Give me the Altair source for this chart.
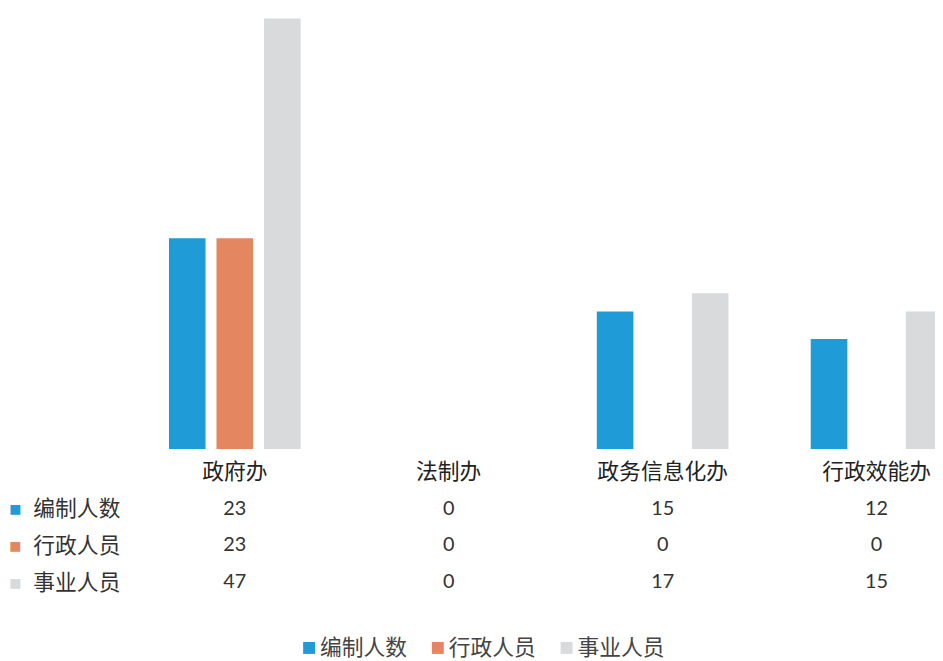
import altair as alt
import pandas as pd

categories = ["政府办", "法制办", "政务信息化办", "行政效能办"]
series = ["编制人数", "行政人员", "事业人员"]
bianzhi = [23, 0, 15, 12]
xingzheng = [23, 0, 0, 0]
shiye = [47, 0, 17, 15]
colors = ["#1f9bd7", "#e4865f", "#d8dadc"]
header_key = "类别"

values = {"编制人数": bianzhi, "行政人员": xingzheng, "事业人员": shiye}
rows = []
for s in series:
    for c, v in zip(categories, values[s]):
        rows.append({"category": c, "series": s, "value": v})
df = pd.DataFrame(rows)
hdr = pd.DataFrame({"category": categories, "row": header_key, "label": categories})
tbl = df.assign(row=df["series"], label=df["value"].astype(str))

CJK = "Noto Sans CJK SC"
NUM = "Lato"
W = 815

x_scale = alt.Scale(domain=categories, range=[0, 864], paddingInner=1 / 3, paddingOuter=1 / 6)

bars = alt.Chart(df).mark_bar(clip=True).encode(
    x=alt.X("category:N", scale=x_scale, axis=None),
    xOffset=alt.XOffset("series:N", scale=alt.Scale(domain=series, paddingInner=0.23, paddingOuter=0.115)),
    y=alt.Y("value:Q", scale=alt.Scale(domain=[0, 47.8]), axis=None),
    color=alt.Color(
        "series:N",
        scale=alt.Scale(domain=series, range=colors),
        legend=alt.Legend(
            orient="none", legendX=172, legendY=632, direction="horizontal", title=None,
            symbolType="square", symbolSize=144, symbolStrokeWidth=0,
            labelFont=CJK, labelFontSize=22, labelColor="#444",
            columnPadding=19, labelOffset=0,
        ),
    ),
).properties(width=W, height=442)

y_scale = alt.Scale(domain=[header_key] + series, padding=0.5)

square_colors = {
    "condition": [{"test": f"datum.value == '{s}'", "value": c} for s, c in zip(series, colors)],
    "value": "#ffffff",
}

head = alt.Chart(hdr).mark_text(font=CJK, fontSize=22, color="#222", clip=True).encode(
    x=alt.X("category:N", scale=x_scale, axis=None),
    y=alt.Y(
        "row:N", scale=y_scale,
        axis=alt.Axis(
            orient="left", offset=104, title=None, domain=False, ticks=False, tickSize=0, grid=False,
            labelExpr=f"datum.value == '{header_key}' ? '' : '■'",
            labelColor=square_colors, labelFont="DejaVu Sans", labelFontSize=13, labelPadding=4,
        ),
    ),
    text="label:N",
)

vals = alt.Chart(tbl).mark_text(font=NUM, fontSize=20, color="#333", clip=True).encode(
    x=alt.X("category:N", scale=x_scale, axis=None),
    y=alt.Y(
        "row:N", scale=y_scale,
        axis=alt.Axis(
            orient="left", title=None, domain=False, ticks=False, tickSize=0, grid=False,
            labelExpr=f"datum.value == '{header_key}' ? '' : datum.value",
            labelFont=CJK, labelFontSize=22, labelColor="#333", labelPadding=8,
        ),
    ),
    text="label:N",
)

table = alt.layer(head, vals).resolve_axis(y="independent").properties(width=W, height=148)

chart = alt.vconcat(bars, table, spacing=5).properties(
    padding=0, background="#ffffff"
).configure_view(stroke=None)

chart.save("out.html", embed_options={"renderer": "svg", "actions": False})
